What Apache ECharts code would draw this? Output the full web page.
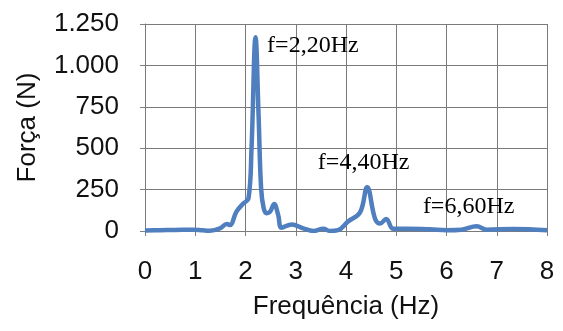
<!DOCTYPE html>
<html>
<head>
<meta charset="utf-8">
<script src="https://cdn.jsdelivr.net/npm/echarts@6/dist/echarts.min.js"></script>
<style>
html, body { margin: 0; padding: 0; background: #fff; }
#myChart { width: 563px; height: 331px; }
</style>
</head>
<body>
<div id="myChart"></div>
<script>
var freq = [0, 0.3, 0.6, 0.96, 1.15, 1.29, 1.49, 1.63, 1.69, 1.82, 1.96, 2.06, 2.12, 2.2, 2.26, 2.31, 2.36, 2.42, 2.49, 2.57, 2.65, 2.72, 2.92, 3.15, 3.35, 3.55, 3.68, 3.84, 4.04, 4.28, 4.42, 4.58, 4.68, 4.8, 4.94, 5.21, 5.67, 6.0, 6.3, 6.6, 6.8, 7.33, 8.0];
var forca = [3, 5, 6, 8, 4, 2, 16, 42, 36, 117, 167, 197, 500, 1170, 700, 260, 140, 107, 117, 163, 97, 20, 40, 16, 0, 14, 0, 5, 57, 113, 264, 73, 45, 73, 13, 13, 10, 5, 8, 28, 8, 12, 5];
var yTicks = [0, 250, 500, 750, 1000, 1250];
var peakLabels = ['f=2,20Hz', 'f=4,40Hz', 'f=6,60Hz'];
var peakLabelPos = [[2.43, 1117], [3.44, 411], [5.53, 145]];

var myChart = echarts.init(document.getElementById('myChart'));
var points = freq.map(function (f, i) { return [f, forca[i]]; });
var labelPoints = peakLabels.map(function (t, i) {
    return { value: peakLabelPos[i], name: t };
});

var option = {
    animation: false,
    grid: {
        left: 145,
        right: 16,
        top: 24,
        bottom: 100,
        outerBoundsMode: 'none',
        containLabel: false
    },
    xAxis: {
        type: 'value',
        min: 0,
        max: 8,
        interval: 1,
        name: 'Frequência (Hz)',
        nameLocation: 'middle',
        nameGap: 63,
        nameTextStyle: { fontFamily: 'Liberation Sans', fontSize: 26, color: '#111' },
        axisLine: { show: false },
        axisTick: { show: true, length: 5, lineStyle: { color: '#808080' } },
        axisLabel: { fontFamily: 'Liberation Sans', fontSize: 26, color: '#111', margin: 28 },
        splitLine: { show: true, lineStyle: { color: '#7a7a7a', width: 1 } }
    },
    yAxis: {
        type: 'value',
        min: 0,
        max: 1250,
        interval: 250,
        name: 'Força (N)',
        nameLocation: 'middle',
        nameGap: 104,
        nameTextStyle: { fontFamily: 'Liberation Sans', fontSize: 26, color: '#111' },
        axisLine: { show: true, lineStyle: { color: '#7a7a7a' } },
        axisTick: { show: true, length: 5, lineStyle: { color: '#808080' } },
        axisLabel: {
            fontFamily: 'Liberation Sans', fontSize: 26, color: '#111', margin: 26,
            formatter: function (v) {
                return yTicks.indexOf(v) >= 0 ? String(v).replace(/\B(?=(\d{3})+(?!\d))/g, '.') : '';
            }
        },
        splitLine: { show: true, lineStyle: { color: '#7a7a7a', width: 1 } }
    },
    series: [
        {
            type: 'line',
            data: points,
            smooth: 0.4,
            showSymbol: false,
            lineStyle: { color: '#4f7fbf', width: 4.5 }
        },
        {
            type: 'scatter',
            data: labelPoints,
            symbolSize: 0,
            silent: true,
            itemStyle: { opacity: 1 },
            label: {
                show: true,
                position: 'right',
                distance: 0,
                fontFamily: 'Liberation Serif',
                fontSize: 24,
                color: '#000',
                opacity: 1,
                formatter: function (p) { return p.name; }
            }
        }
    ]
};

myChart.setOption(option);
</script>
</body>
</html>
